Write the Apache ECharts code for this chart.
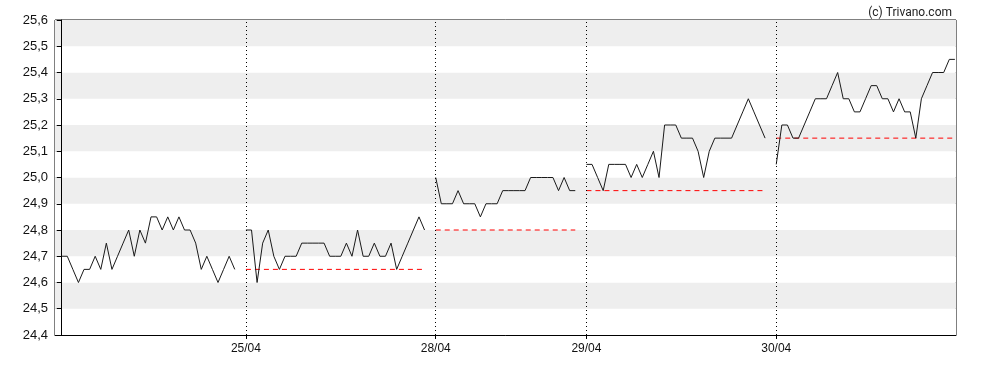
<!DOCTYPE html>
<html><head><meta charset="utf-8">
<script src="https://cdn.jsdelivr.net/npm/echarts@6/dist/echarts.min.js"></script>
<style>html,body{margin:0;padding:0;background:#fff}#c{width:988px;height:370px}</style>
</head><body><div id="c"></div>
<script>
// Intraday prices per trading day (one point per slot)
const day1 = [24.7,24.7,24.65,24.6,24.65,24.65,24.7,24.65,24.75,24.65,24.7,24.75,24.8,24.7,24.8,24.75,24.85,24.85,24.8,24.85,24.8,24.85,24.8,24.8,24.75,24.65,24.7,24.65,24.6,24.65,24.7,24.65];
const day2 = [24.8,24.8,24.6,24.75,24.8,24.7,24.65,24.7,24.7,24.7,24.75,24.75,24.75,24.75,24.75,24.7,24.7,24.7,24.75,24.7,24.8,24.7,24.7,24.75,24.7,24.7,24.75,24.65,24.7,24.75,24.8,24.85,24.8];
const day3 = [25.0,24.9,24.9,24.9,24.95,24.9,24.9,24.9,24.85,24.9,24.9,24.9,24.95,24.95,24.95,24.95,24.95,25.0,25.0,25.0,25.0,25.0,24.95,25.0,24.95,24.95];
const day4 = [25.05,25.05,25.0,24.95,25.05,25.05,25.05,25.05,25.0,25.05,25.0,25.05,25.1,25.0,25.2,25.2,25.2,25.15,25.15,25.15,25.1,25.0,25.1,25.15,25.15,25.15,25.15,25.2,25.25,25.3,25.25,25.2,25.15];
const day5 = [25.05,25.2,25.2,25.15,25.15,25.2,25.25,25.3,25.3,25.3,25.35,25.4,25.3,25.3,25.25,25.25,25.3,25.35,25.35,25.3,25.3,25.25,25.3,25.25,25.25,25.15,25.3,25.35,25.4,25.4,25.4,25.45,25.45];
const dayStarts = [0, 33, 67, 94, 128];       // slot index of each day's first point
const dayLabels = ['24/04','25/04','28/04','29/04','30/04'];
const prevClose = [null, 24.65, 24.8, 24.95, 25.15];
const yTicks = [24.4,24.5,24.6,24.7,24.8,24.9,25.0,25.1,25.2,25.3,25.4,25.5,25.6];

const days = [day1, day2, day3, day4, day5];
const series = [];
days.forEach((d, i) => {
  const s = dayStarts[i];
  series.push({
    type: 'line', data: d.map((v, k) => [s + k, v]), symbol: 'none', silent: true,
    lineStyle: { color: '#1a1a1a', width: 1 }, animation: false,
    markLine: i > 0 ? { silent: true, symbol: 'none', animation: false, label: { show: false },
      lineStyle: { color: '#000', type: [1, 3], width: 1 },
      data: [{ xAxis: s }] } : undefined
  });
  if (prevClose[i] != null) {
    series.push({
      type: 'line', data: [[s, prevClose[i]], [s + d.length - 1, prevClose[i]]], symbol: 'none', silent: true,
      lineStyle: { color: '#ff0000', width: 1, type: [5, 4] }, animation: false, z: 1
    });
  }
});

const chart = echarts.init(document.getElementById('c'), null, { renderer: 'canvas' });
chart.setOption({
  animation: false,
  backgroundColor: '#fff',
  title: { text: '(c) Trivano.com', right: 31, top: 2,
    textStyle: { fontFamily: 'Roboto', fontSize: 12, fontWeight: 'normal', color: '#222' } },
  grid: { left: 55, right: 32, top: 20, bottom: 35, show: true, borderColor: '#000', borderWidth: 1, backgroundColor: 'transparent' },
  xAxis: {
    type: 'value', min: -1.2, max: 160.2,
    axisLine: { show: true, lineStyle: { color: '#000' } },
    splitLine: { show: false },
    axisTick: { show: true, customValues: dayStarts.slice(1), length: 4, lineStyle: { color: '#000' } },
    axisLabel: { customValues: dayStarts.slice(1), color: '#111', fontFamily: 'Liberation Sans, Arial', fontSize: 12, margin: 8,
      formatter: v => dayLabels[dayStarts.indexOf(Math.round(v))] }
  },
  yAxis: {
    type: 'value', min: 24.4, max: 25.6, interval: 0.1,
    axisLine: { show: true, lineStyle: { color: '#000' } },
    axisTick: { show: true, length: 5, lineStyle: { color: '#000' } },
    splitLine: { show: false },
    splitArea: { show: true, areaStyle: { color: ['#ffffff', '#eeeeee'] } },
    axisLabel: { color: '#111', fontFamily: 'Liberation Sans, Arial', fontSize: 13, margin: 7,
      formatter: v => { const t = yTicks.find(t => Math.abs(t - v) < 1e-6); return (t != null ? t : v).toFixed(1).replace('.', ','); } }
  },
  series: series
});
</script></body></html>
